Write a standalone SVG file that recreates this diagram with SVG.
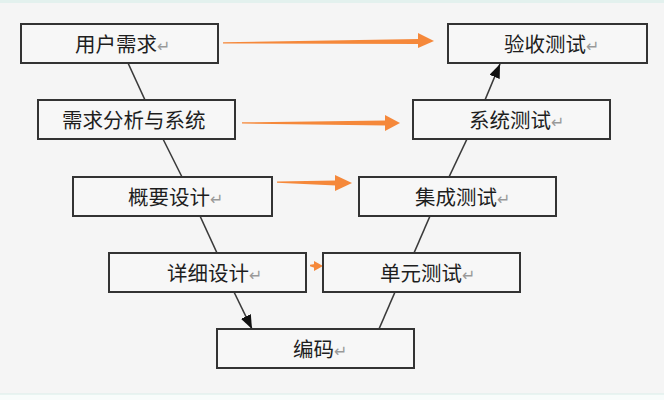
<svg xmlns="http://www.w3.org/2000/svg" width="664" height="400" viewBox="0 0 664 400">
<defs>
<style>
.box{fill:#f7f7f7;stroke:#333;stroke-width:2}
.lbl{font-family:"Noto Sans CJK SC","Noto Sans",sans-serif;font-size:20.5px;fill:#1e1e1e}
.pm{font-family:"DejaVu Sans",sans-serif;font-size:16px;fill:#999}
.ln{stroke:#3a3a3a;stroke-width:1.6;fill:none}
.or{fill:#f5883a}
</style>
<marker id="ah" markerUnits="userSpaceOnUse" markerWidth="15" markerHeight="12" refX="14" refY="5.5" orient="auto">
<path d="M0,0 L14,5.5 L0,11 z" fill="#111"/>
</marker>
</defs>
<rect width="664" height="400" fill="#f5f5f5"/>
<rect width="664" height="3" fill="#e3f1ee"/>
<rect y="394" width="664" height="6" fill="#f8fcfb"/>
<line x1="0" y1="394" x2="664" y2="394" stroke="#d8ece8" stroke-width="1"/>

<g id="connectors">
<line class="ln" x1="128" y1="63" x2="145" y2="100"/>
<line class="ln" x1="163" y1="139" x2="182" y2="177"/>
<line class="ln" x1="200" y1="216" x2="217" y2="253"/>
<line class="ln" x1="234" y1="292" x2="252" y2="329" marker-end="url(#ah)"/>
<line class="ln" x1="379" y1="329" x2="395" y2="292"/>
<line class="ln" x1="414" y1="253" x2="430" y2="216"/>
<line class="ln" x1="449" y1="177" x2="467" y2="139"/>
<line class="ln" x1="485" y1="100" x2="500" y2="64" marker-end="url(#ah)"/>
<polygon class="or" points="223,42.3 419,39 419,44 223,43.5"/>
<polygon class="or" points="418,33 434,41 418,48"/>
<polygon class="or" points="242,122.3 386,120.5 386,125.5 242,123.5"/>
<polygon class="or" points="385,115 400,123 385,131"/>
<polygon class="or" points="277,181.5 336,180.5 336,185.5 277,182.7"/>
<polygon class="or" points="335,175 352,183 335,191"/>
<polygon class="or" points="310,264.8 315,264 315,268 310,266.2"/>
<polygon class="or" points="314,261 323,266 314,271"/>
</g>

<g id="n1"><rect class="box" x="21" y="24" width="197" height="39"/><text class="lbl" x="75" y="51.5">用户需求<tspan class="pm">↵</tspan></text></g>
<g id="n2"><rect class="box" x="38" y="100" width="197" height="39"/><text class="lbl" x="62" y="127.5">需求分析与系统</text></g>
<g id="n3"><rect class="box" x="73" y="177" width="199" height="39"/><text class="lbl" x="128" y="204.5">概要设计<tspan class="pm">↵</tspan></text></g>
<g id="n4"><rect class="box" x="109" y="253" width="197" height="39"/><text class="lbl" x="167" y="280.5">详细设计<tspan class="pm">↵</tspan></text></g>
<g id="n5"><rect class="box" x="217" y="329" width="197" height="39"/><text class="lbl" x="293" y="356.5">编码<tspan class="pm">↵</tspan></text></g>
<g id="n6"><rect class="box" x="323" y="253" width="197" height="39"/><text class="lbl" x="380" y="280.5">单元测试<tspan class="pm">↵</tspan></text></g>
<g id="n7"><rect class="box" x="359" y="177" width="197" height="39"/><text class="lbl" x="415" y="204.5">集成测试<tspan class="pm">↵</tspan></text></g>
<g id="n8"><rect class="box" x="413" y="100" width="197" height="39"/><text class="lbl" x="469" y="127.5">系统测试<tspan class="pm">↵</tspan></text></g>
<g id="n9"><rect class="box" x="448" y="24" width="199" height="39"/><text class="lbl" x="504" y="51.5">验收测试<tspan class="pm">↵</tspan></text></g>
</svg>
